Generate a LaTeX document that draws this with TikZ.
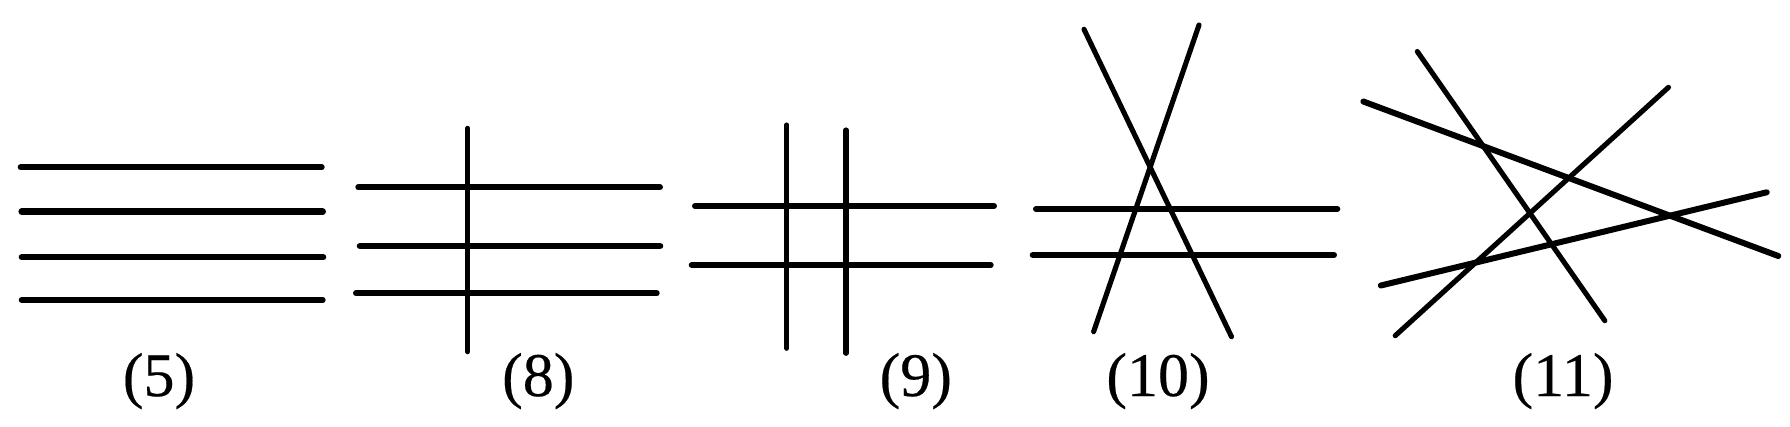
\documentclass[tikz,border=0pt]{standalone}
\usepackage{fontspec}
\setmainfont{Liberation Serif}
\newfontfamily\lblfont{Liberation Serif}[BoldFont={Liberation Serif},BoldFeatures={FakeBold=0.35}]
\begin{document}
\begin{tikzpicture}[x=1pt,y=-1pt,
  heavyln/.style={line width=6.6pt,line cap=round},
  thickln/.style={line width=6pt,line cap=round},
  thinln/.style={line width=5.1pt,line cap=round},
  lbl/.style={anchor=base,inner sep=0pt,font=\lblfont\bfseries\fontsize{62}{62}\selectfont}]
\useasboundingbox (0,0) rectangle (1790,426);
% (5)
\draw[thickln] (20.7,167.3) -- (321.7,167.3);
\draw[heavyln] (21.7,211.7) -- (322.7,211.7);
\draw[thickln] (21.7,257.3) -- (323.3,257.3);
\draw[thickln] (21.7,300) -- (322.7,300);
\node[lbl] (l5) at (159,396) {(5)};
% (8)
\draw[thinln] (467.7,128.3) -- (467.7,351.7);
\draw[thickln] (358.3,187.3) -- (660,187.3);
\draw[heavyln] (360,246) -- (660,246);
\draw[thickln] (356,293.3) -- (656.7,293.3);
\node[lbl] (l8) at (538.3,396) {(8)};
% (9)
\draw[thinln] (786.7,125) -- (786.7,348.3);
\draw[thinln] (846,130) -- (846,353.3);
\draw[thickln] (695,206) -- (994,206);
\draw[thickln] (691.7,265) -- (990.7,265);
\node[lbl] (l9) at (915.8,396) {(9)};
% (10)
\draw[thickln] (1036,209) -- (1337.3,209);
\draw[thickln] (1032.7,255) -- (1334,255);
\draw[thinln] (1084,29.3) -- (1231.5,336.7);
\draw[thinln] (1199,25) -- (1093.6,331.7);
\node[lbl] (l10) at (1158,396) {(10)};
% (11)
\draw[thickln] (1363.3,101.5) -- (1778.3,256);
\draw[thinln] (1417.3,51.5) -- (1604.8,320.7);
\draw[thinln] (1668.5,87.3) -- (1395.2,335.7);
\draw[thickln] (1380.8,285.5) -- (1766.7,192.3);
\node[lbl] (l11) at (1563,396) {(11)};
\end{tikzpicture}
\end{document}
